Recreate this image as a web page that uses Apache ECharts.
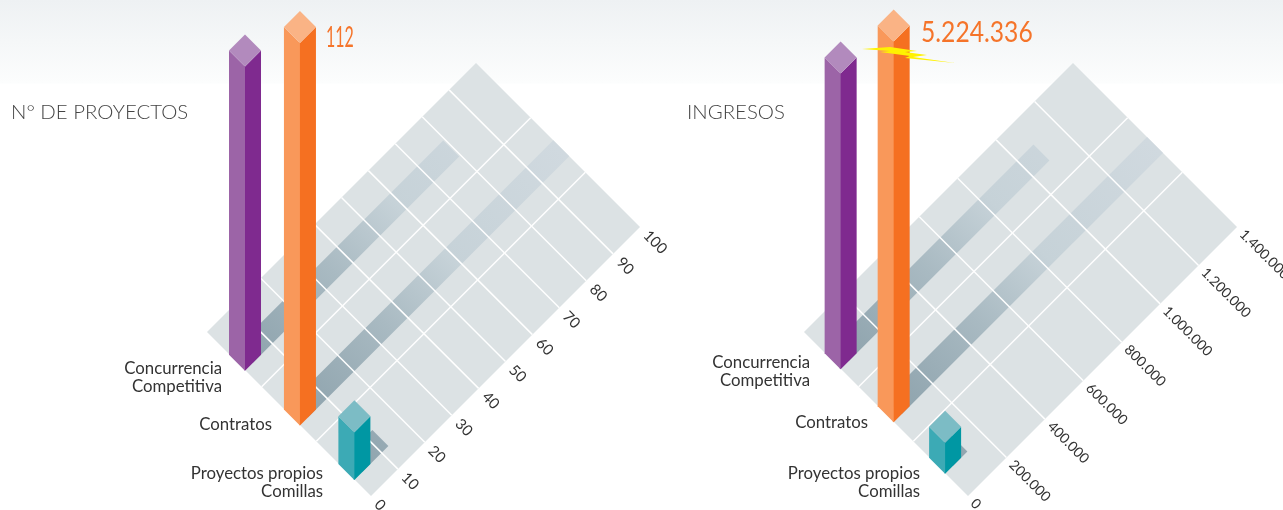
<!DOCTYPE html>
<html>
<head>
<meta charset="utf-8">
<style>html,body{margin:0;padding:0;background:#fff}#c{width:1283px;height:510px}</style>
<script src="https://cdn.jsdelivr.net/npm/echarts@6/dist/echarts.min.js"></script>
</head>
<body>
<div id="c"></div>
<script>
// ---- data -------------------------------------------------------------
const categorias = ['Concurrencia\nCompetitiva', 'Contratos', 'Proyectos propios\nComillas'];
const proyectos = [89, 112, 14];
const proyectosSombra = [79.5, 100, 12.5];
const ingresos = [4060000, 5224336, 425000];
const ingresosSombra = [1085000, 1400000, 114000];
const ticksProyectos = [0, 10, 20, 30, 40, 50, 60, 70, 80, 90, 100];
const ticksIngresos = [0, 200000, 400000, 600000, 800000, 1000000, 1200000, 1400000];
const etiquetasProyectos = ['0', '10', '20', '30', '40', '50', '60', '70', '80', '90', '100'];
const etiquetasIngresos = ['0', '200.000', '400.000', '600.000', '800.000', '1.000.000', '1.200.000', '1.400.000'];
const filas = [0, 1, 2, 3];

// ---- style ------------------------------------------------------------
const FONT = 'Lato';
const coloresBarra = [
  { l: '#9c64a7', r: '#7f2a8f', t: '#b28abd' },
  { l: '#f9985a', r: '#f57021', t: '#fab385' },
  { l: '#3caab5', r: '#0097a3', t: '#7cbcc5' }
];
const paneles = [
  { grid: { left: 371, top: 332, width: 269, height: 164 }, xMax: 100, yMax: 48,
    valores: proyectos, sombras: proyectosSombra, ticks: ticksProyectos, etiquetas: etiquetasProyectos,
    tickFont: 15, tickOff: 6,
    centros: [2.445, 1.44, 0.444], etiquetaX: [222, 272, 323], etiquetaY: [378, 425, 483] },
  { grid: { left: 968, top: 332, width: 269, height: 164 }, xMax: 1400000, yMax: 2250000,
    valores: ingresos, sombras: ingresosSombra, ticks: ticksIngresos, etiquetas: etiquetasIngresos,
    tickFont: 14, tickOff: 5,
    centros: [2.47, 1.5, 0.559], etiquetaX: [810, 868, 920], etiquetaY: [372, 423, 483] }
];

// floor plane -> screen: value axis runs up-right, row axis runs up-left
function proj(api, xv, yv) {
  const o = api.coord([0, 0]), p = api.coord([xv, yv]);
  const u = p[0] - o[0], v = o[1] - p[1];
  return [o[0] + u - v, o[1] - u - v];
}
function shift(p, du, dv) { return [p[0] + du - dv, p[1] - du - dv]; }

const series = [];
paneles.forEach(function (P, i) {
  const rowSpan = P.yMax / 3;
  const base = P.xMax * 0.0285;
  const common = { type: 'custom', xAxisIndex: i, yAxisIndex: i, silent: true, clip: false, animation: false };

  // floor
  series.push(Object.assign({}, common, {
    z: 1, data: [0],
    renderItem: function (params, api) {
      return { type: 'polygon', shape: { points: [
        proj(api, 0, 0), proj(api, P.xMax, 0), proj(api, P.xMax, P.yMax), proj(api, 0, P.yMax)
      ] }, style: { fill: '#dce2e4' } };
    }
  }));

  // floor shadows of the bars
  series.push(Object.assign({}, common, {
    z: 2, data: P.sombras,
    renderItem: function (params, api) {
      const d = params.dataIndex, row = P.centros[d] * rowSpan;
      const a = proj(api, base, row), b = proj(api, P.sombras[d], row);
      const far = shift(a, 260, 0);
      const fill = new echarts.graphic.LinearGradient(a[0], a[1], far[0], far[1], [
        { offset: 0, color: '#8ea3ad' }, { offset: 0.33, color: '#a9bac2' },
        { offset: 0.58, color: '#c6d2d8' }, { offset: 1, color: '#d0d9df' }
      ], true);
      return { type: 'polygon', shape: { points: [
        shift(a, 0, -8), shift(b, 0, -8), shift(b, 0, 8), shift(a, 0, 8)
      ] }, style: { fill: fill } };
    }
  }));

  // grid lines across the value axis
  series.push(Object.assign({}, common, {
    z: 3, data: P.ticks.slice(1, -1),
    renderItem: function (params, api) {
      const t = P.ticks[params.dataIndex + 1];
      const a = proj(api, t, 0), b = proj(api, t, P.yMax);
      return { type: 'line', shape: { x1: a[0], y1: a[1], x2: b[0], y2: b[1] },
        style: { stroke: '#fff', lineWidth: 1.5 } };
    }
  }));
  // grid lines between rows
  series.push(Object.assign({}, common, {
    z: 3, data: filas.slice(1, -1),
    renderItem: function (params, api) {
      const r = filas[params.dataIndex + 1] * rowSpan;
      const a = proj(api, 0, r), b = proj(api, P.xMax, r);
      return { type: 'line', shape: { x1: a[0], y1: a[1], x2: b[0], y2: b[1] },
        style: { stroke: '#fff', lineWidth: 1.5 } };
    }
  }));

  // tick labels
  series.push(Object.assign({}, common, {
    z: 4, data: P.ticks,
    renderItem: function (params, api) {
      const d = params.dataIndex, p = proj(api, P.ticks[d], 0);
      return { type: 'text', x: p[0] + P.tickOff, y: p[1] + P.tickOff, rotation: -Math.PI / 4,
        style: { text: P.etiquetas[d], x: 0, y: 0, font: P.tickFont + 'px ' + FONT, fill: '#333',
          align: 'left', verticalAlign: 'middle', textAlign: 'left', textVerticalAlign: 'middle' } };
    }
  }));

  // bars
  series.push(Object.assign({}, common, {
    z: 5, data: P.valores,
    renderItem: function (params, api) {
      const d = params.dataIndex, c = coloresBarra[d], w = 16;
      const b = proj(api, base, P.centros[d] * rowSpan);
      const h = api.size([0, P.valores[d]])[1];
      const x = b[0], y = b[1], t = y - h;
      const face = function (pts, fill) {
        return { type: 'polygon', shape: { points: pts }, style: { fill: fill } };
      };
      return { type: 'group', children: [
        face([[x + w, y], [x, y + w], [x - 1, y + w - 1], [x - 1, t + w - 1], [x, t + w], [x + w, t]], c.r),
        face([[x - w, y], [x, y + w], [x, t + w], [x - w, t]], c.l),
        face([[x - w, t], [x, t - w], [x + w, t], [x, t + w]], c.t)
      ] };
    }
  }));

  // category labels
  series.push(Object.assign({}, common, {
    z: 6, data: categorias.map(function (c, k) { return k; }),
    renderItem: function (params) {
      const d = params.dataIndex;
      return { type: 'text', x: P.etiquetaX[d], y: P.etiquetaY[d],
        style: { text: categorias[d], x: 0, y: 0, font: '16.8px ' + FONT, fill: '#333', lineHeight: 18,
          align: 'right', verticalAlign: 'middle', textAlign: 'right', textVerticalAlign: 'middle' } };
    }
  }));
});

const chart = echarts.init(document.getElementById('c'), null, { renderer: 'canvas', width: 1283, height: 510 });
chart.setOption({
  animation: false,
  backgroundColor: {
    type: 'linear', x: 0, y: 0, x2: 0, y2: 1,
    colorStops: [
      { offset: 0, color: '#eef1f3' }, { offset: 0.163, color: '#fcfdfd' },
      { offset: 0.165, color: '#ffffff' }, { offset: 1, color: '#ffffff' }
    ]
  },
  grid: paneles.map(function (P) { return P.grid; }),
  xAxis: paneles.map(function (P, i) {
    return { type: 'value', gridIndex: i, min: 0, max: P.xMax, show: false };
  }),
  yAxis: paneles.map(function (P, i) {
    return { type: 'value', gridIndex: i, min: 0, max: P.yMax, show: false };
  }),
  series: series,
  graphic: [
    { type: 'text', left: 11, top: 102, z: 20, style: { text: 'N\u00B0 DE PROYECTOS', font: '300 20.4px ' + FONT, fill: '#444' } },
    { type: 'text', left: 687, top: 102, z: 20, style: { text: 'INGRESOS', font: '300 20.4px ' + FONT, fill: '#444' } },
    { type: 'text', x: 326, y: 38, scaleX: 0.57, z: 20, style: { text: '112', font: '400 28px ' + FONT, fill: '#f5742a', verticalAlign: 'middle', textVerticalAlign: 'middle' } },
    { type: 'text', x: 921, y: 33, scaleX: 0.88, z: 20, style: { text: '5.224.336', font: '400 28px ' + FONT, fill: '#f5742a', verticalAlign: 'middle', textVerticalAlign: 'middle' } },
    { type: 'polygon', z: 20, shape: { points: [
      [862, 49], [890, 47], [917, 51], [905, 52], [927, 55], [913, 57], [955, 63], [905, 58], [910, 56], [880, 52], [890, 51]
    ] }, style: { fill: '#fff200' } }
  ]
});
</script>
</body>
</html>
